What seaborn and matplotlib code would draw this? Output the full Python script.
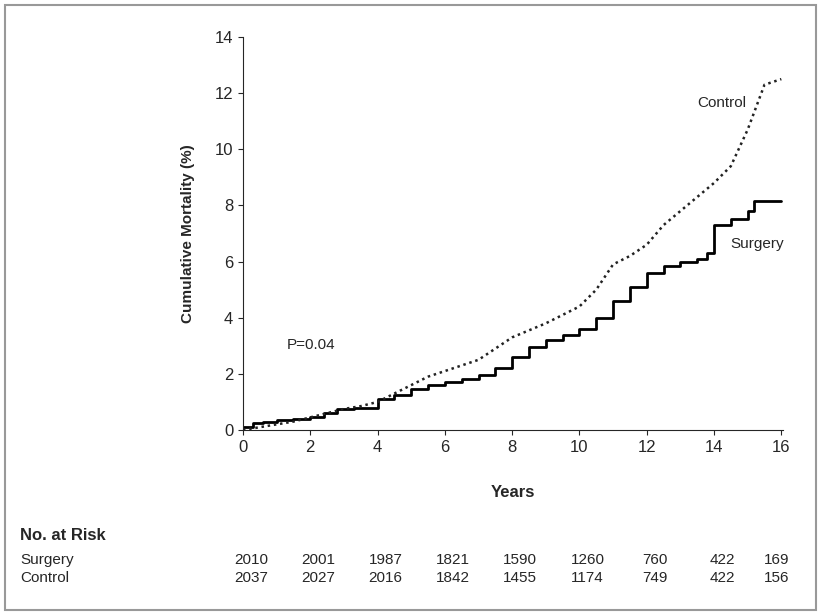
import matplotlib
matplotlib.use('Agg')
import matplotlib.pyplot as plt
import seaborn as sns
import pandas as pd

sns.set_style('ticks')
plt.rcParams['font.family'] = ['Liberation Sans', 'DejaVu Sans']

surg_t = [0, 0.3, 0.6, 1.0, 1.5, 2.0, 2.4, 2.8, 3.3, 3.7, 4.0, 4.5, 5.0, 5.5, 6.0, 6.5, 7.0, 7.5,
          8.0, 8.5, 9.0, 9.5, 10.0, 10.5, 11.0, 11.5, 12.0, 12.5, 13.0, 13.5, 13.8, 14.0, 14.5,
          15.0, 15.2, 16.0]
surg_y = [0.1, 0.25, 0.3, 0.35, 0.4, 0.45, 0.6, 0.75, 0.78, 0.8, 1.1, 1.25, 1.45, 1.6, 1.7, 1.8,
          1.95, 2.2, 2.6, 2.95, 3.2, 3.4, 3.6, 4.0, 4.6, 5.1, 5.6, 5.85, 6.0, 6.1, 6.3, 7.3, 7.5,
          7.8, 8.15, 8.15]
ctrl_t = [0, 0.5, 1.0, 1.5, 2.0, 2.5, 3.0, 3.5, 4.0, 4.5, 5.0, 5.5, 6.0, 6.5, 7.0, 7.5, 8.0, 8.5,
          9.0, 9.5, 10.0, 10.5, 11.0, 11.5, 12.0, 12.5, 13.0, 13.5, 14.0, 14.5, 15.0, 15.5, 16.0]
ctrl_y = [0.0, 0.1, 0.2, 0.3, 0.45, 0.6, 0.75, 0.85, 1.0, 1.3, 1.6, 1.9, 2.1, 2.3, 2.5, 2.9, 3.3,
          3.55, 3.8, 4.1, 4.4, 5.0, 5.9, 6.2, 6.6, 7.3, 7.8, 8.3, 8.8, 9.4, 10.7, 12.3, 12.5]

risk_years = [0, 2, 4, 6, 8, 10, 12, 14, 16]
risk_surgery = [2010, 2001, 1987, 1821, 1590, 1260, 760, 422, 169]
risk_control = [2037, 2027, 2016, 1842, 1455, 1174, 749, 422, 156]

df_s = pd.DataFrame({'t': surg_t, 'y': surg_y})
df_c = pd.DataFrame({'t': ctrl_t, 'y': ctrl_y})

fig = plt.figure(figsize=(8.21, 6.15), dpi=100)
ax = fig.add_axes([243/821, 1 - 430/615, 540/821, 393/615])
sns.lineplot(data=df_s, x='t', y='y', ax=ax, color='black', lw=2, drawstyle='steps-post')
sns.lineplot(data=df_c, x='t', y='y', ax=ax, color='#222222', lw=1.8, linestyle=(0, (1, 1.5)))
ax.set_xlim(0, 16.05)
ax.set_ylim(0, 14)
ax.set_xticks(range(0, 17, 2))
ax.set_yticks(range(0, 15, 2))
sns.despine(ax=ax)
ax.tick_params(labelsize=12)
ax.set_xlabel('Years', fontsize=12, fontweight='bold', labelpad=22)
ax.set_ylabel('Cumulative Mortality (%)', fontsize=11, fontweight='bold', labelpad=14)
ax.text(14.95, 11.5, 'Control', fontsize=11, ha='right')
ax.text(14.5, 6.5, 'Surgery', fontsize=11)
ax.text(1.3, 2.9, 'P=0.04', fontsize=11)

fig.text(20/821, 1 - 535/615, 'No. at Risk', fontsize=12, fontweight='bold', va='center')
for name, vals, yp in [('Surgery', risk_surgery, 560), ('Control', risk_control, 578)]:
    fig.text(20/821, 1 - yp/615, name, fontsize=11, va='center')
    for yr, v in zip(risk_years, vals):
        xf = ax.transData.transform((yr, 0))[0] / fig.bbox.width
        fig.text(xf + 8/821, 1 - yp/615, str(v), fontsize=11, va='center', ha='right' if yr == 16 else 'center')

fig.patches.append(plt.Rectangle((5/821, 5/615), 811/821, 605/615, transform=fig.transFigure,
                                 fill=False, edgecolor='#999999', lw=1.5))
fig.savefig('out.png', dpi=100)
